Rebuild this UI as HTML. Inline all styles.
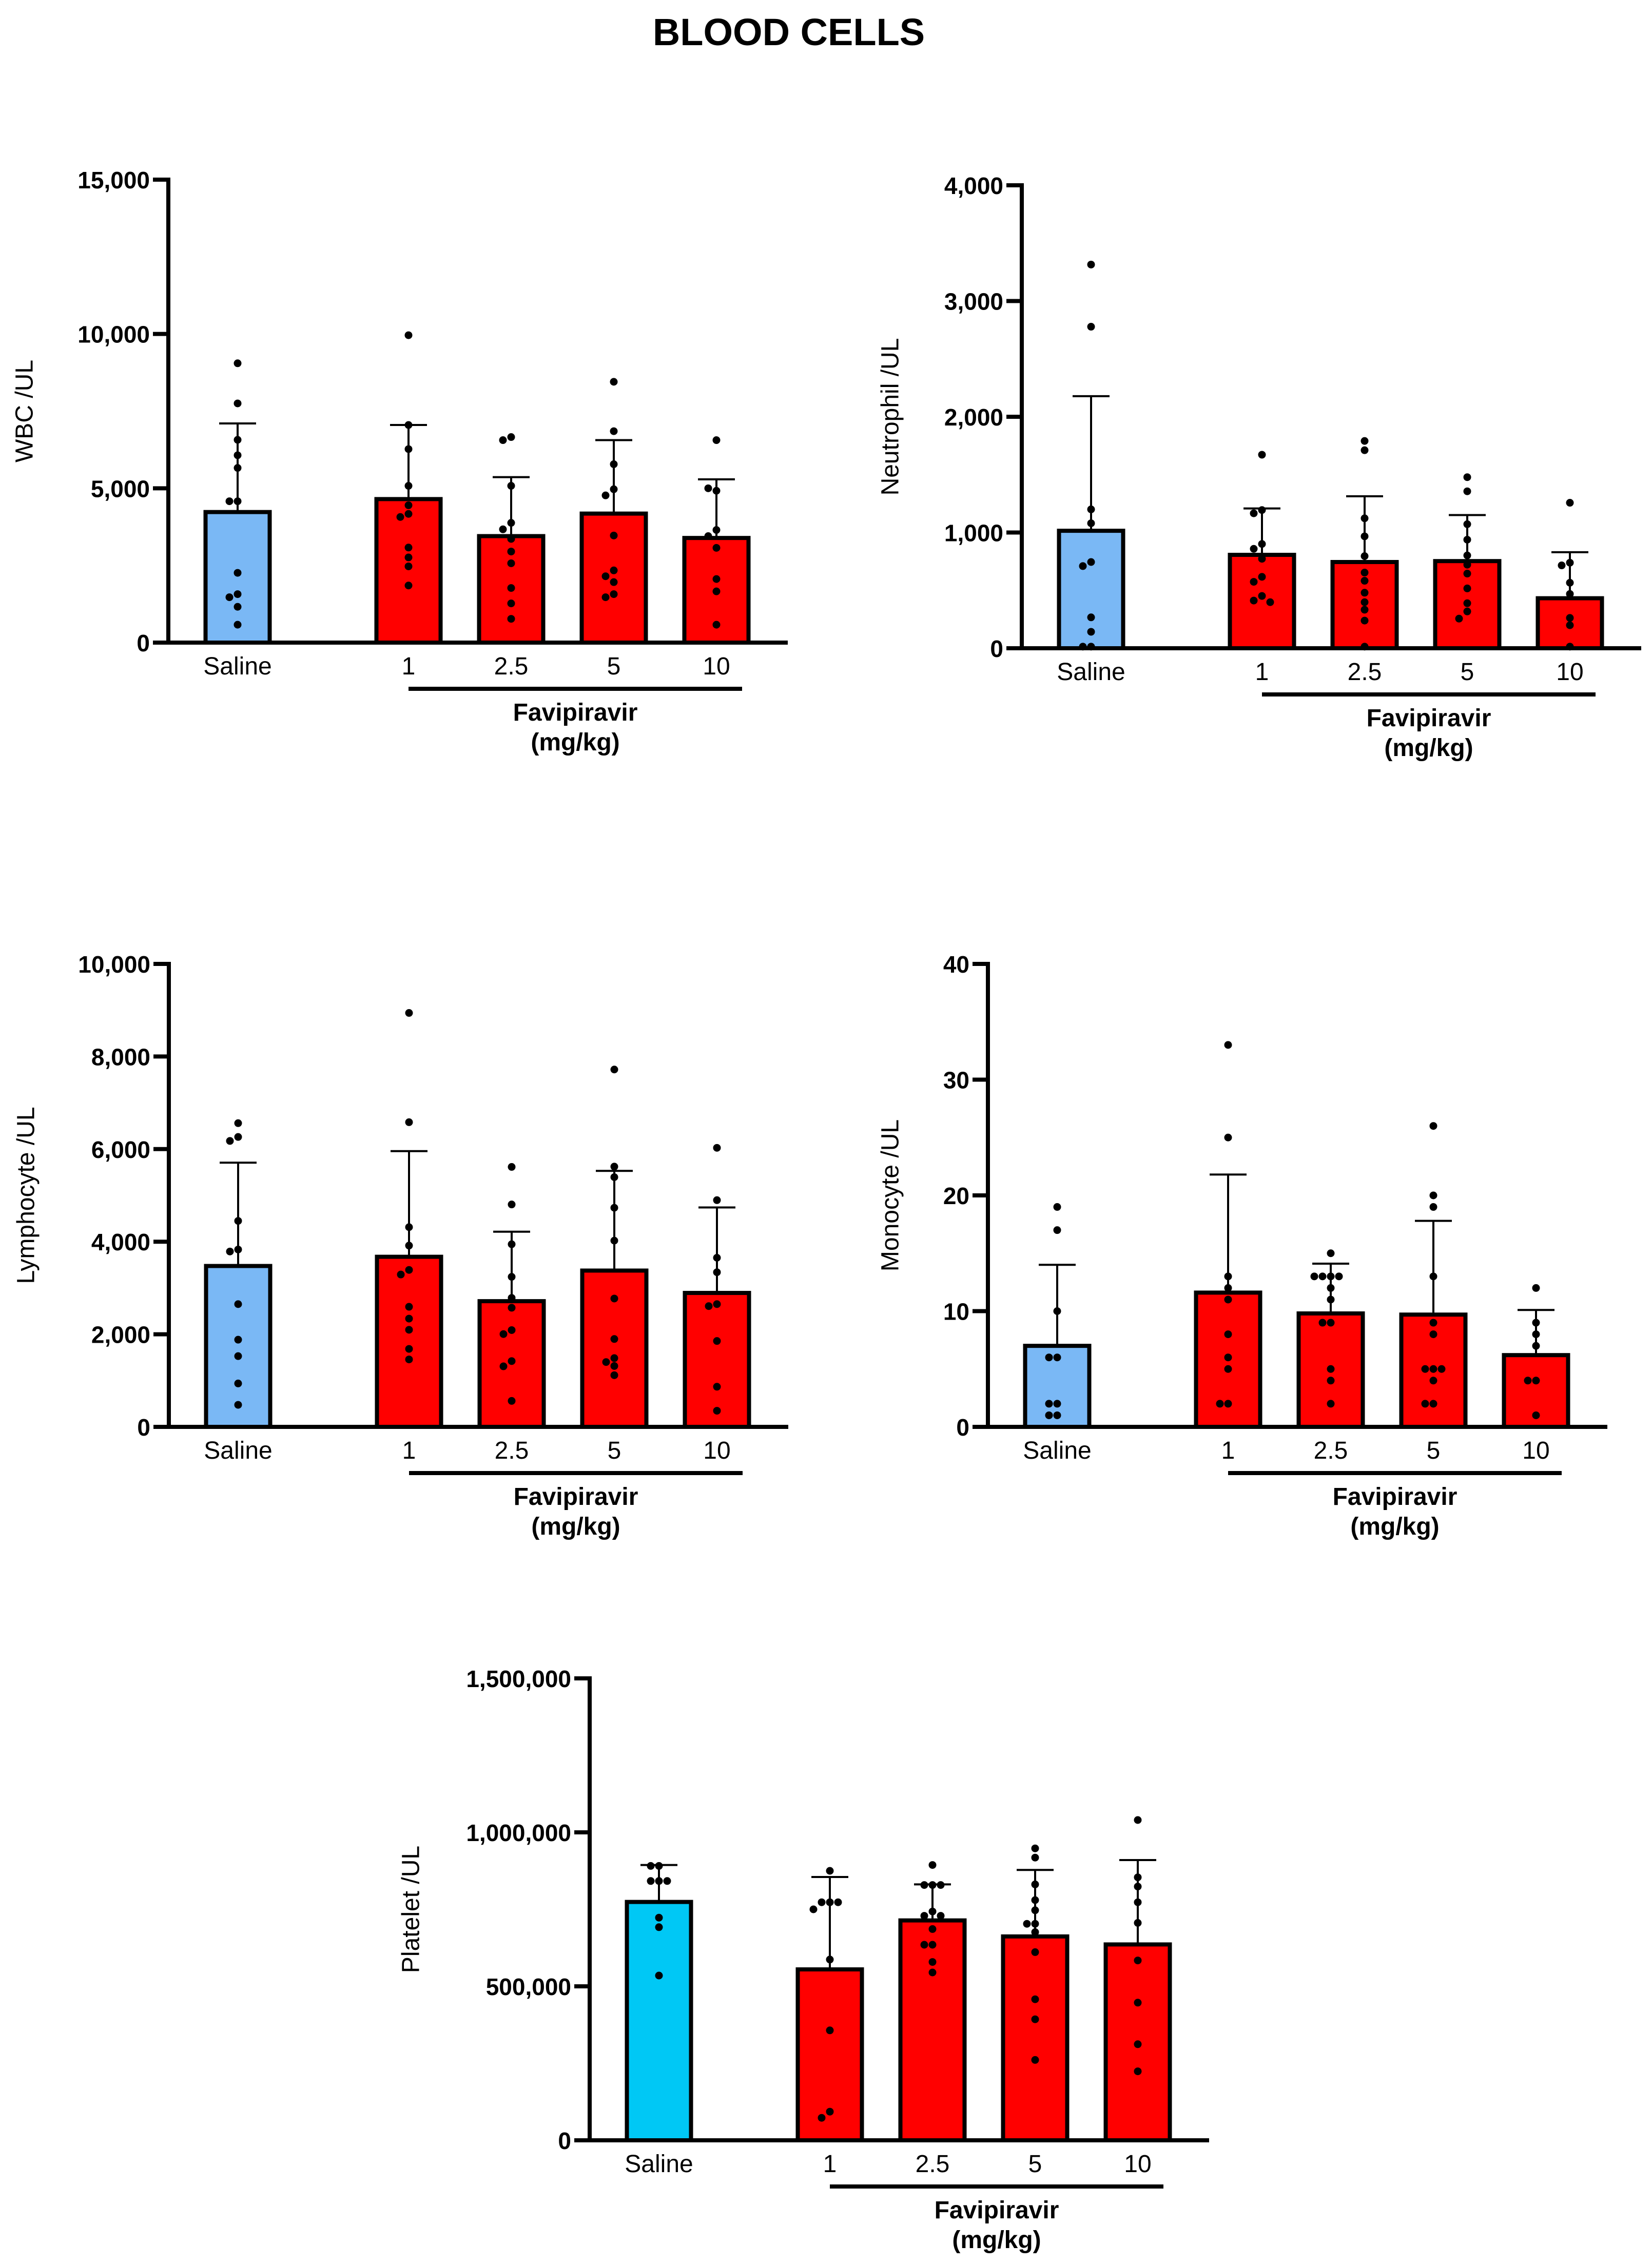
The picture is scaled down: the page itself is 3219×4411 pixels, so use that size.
<!DOCTYPE html>
<html><head><meta charset="utf-8">
<style>
html,body{margin:0;padding:0;background:#fff;}
svg{display:block;}
text{font-family:"Liberation Sans",Arial,sans-serif;}
</style></head>
<body>
<svg id="fig" width="3219" height="4411" viewBox="0 0 3219 4411" xmlns="http://www.w3.org/2000/svg">
<rect width="3219" height="4411" fill="#fff"/>
<text x="1537" y="88" font-size="74" font-weight="bold" text-anchor="middle">BLOOD CELLS</text>
</svg>
<script>
// ---- data ----
const categories = ["Saline","1","2.5","5","10"];

const wbcMeans = [4230, 4650, 3450, 4180, 3390];
const wbcErr = [7100, 7050, 5360, 6560, 5290];
const wbcPoints = [
 [9050,7750,6570,6070,5660,4580,4580,2260,1570,1470,1160,580],
 [9960,7050,6270,5080,4450,4170,4070,3080,2760,2470,1850],
 [6660,6560,5080,3880,3670,3360,2950,2570,1770,1270,770],
 [8450,6850,5780,4970,4770,3470,2340,2150,1960,1570,1470],
 [6560,4920,5000,3650,3450,3070,2060,1660,580]
];
const wbcTicks = [0,5000,10000,15000];
const wbcTickLabels = ["0","5,000","10,000","15,000"];

const neuMeans = [1015, 807, 745, 753, 432];
const neuErr = [2178, 1208, 1313, 1151, 830];
const neuPoints = [
 [3315,2778,1200,1080,745,710,267,142,14,14],
 [1672,1194,1166,901,859,773,617,574,452,412,398],
 [1791,1711,1123,967,796,654,583,480,398,333,239,14],
 [1478,1356,1072,938,802,722,645,517,389,318,256],
 [1257,739,716,566,469,262,199,14]
];
const neuTicks = [0,1000,2000,3000,4000];
const neuTickLabels = ["0","1,000","2,000","3,000","4,000"];

const lymMeans = [3475, 3674, 2715, 3376, 2893];
const lymErr = [5707, 5956, 4215, 5530, 4740];
const lymPoints = [
 [6560,6262,6176,4449,3831,3788,2651,1883,1528,938,476],
 [8941,6581,4314,3916,3390,3291,2594,2338,2097,1684,1457],
 [5615,4804,3945,3241,2786,2573,2090,2004,1421,1308,561],
 [7719,5622,5394,4733,4023,2772,1898,1485,1400,1315,1116],
 [6027,4897,3653,3340,2651,2608,1855,867,348]
];
const lymTicks = [0,2000,4000,6000,8000,10000];
const lymTickLabels = ["0","2,000","4,000","6,000","8,000","10,000"];

const monMeans = [7.0, 11.6, 9.8, 9.7, 6.2];
const monErr = [14.0, 21.8, 14.1, 17.8, 10.1];
const monPoints = [
 [19,17,10,6,6,2,2,1,1],
 [33,25,13,12,11,8,6,5,2,2],
 [15,13,13,13,13,12,11,9,9,5,4,2],
 [26,20,19,13,9,8,5,5,5,4,2,2],
 [12,9,8,7,4,4,1]
];
const monTicks = [0,10,20,30,40];
const monTickLabels = ["0","10","20","30","40"];

const pltMeans = [774000, 555000, 714000, 662000, 636000];
const pltErr = [894000, 855000, 831000, 878000, 910000];
const pltPoints = [
 [891000,891000,842000,842000,842000,723000,692000,535000],
 [875000,773000,773000,773000,750000,587000,357000,93000,73000],
 [894000,829000,829000,829000,743000,729000,729000,686000,635000,635000,579000,545000],
 [948000,918000,831000,780000,747000,703000,703000,676000,611000,458000,393000,261000],
 [1040000,854000,824000,773000,706000,584000,447000,312000,224000]
];
const pltTicks = [0,500000,1000000,1500000];
const pltTickLabels = ["0","500,000","1,000,000","1,500,000"];

// ---- drawing ----
const NS = "http://www.w3.org/2000/svg";
const svg = document.getElementById("fig");
function mk(tag, attrs, parent){
  const e = document.createElementNS(NS, tag);
  for (const k in attrs) e.setAttribute(k, attrs[k]);
  (parent||svg).appendChild(e);
  return e;
}

function drawPanel(p){
  const g = mk("g", {});
  
  
  const yMax = p.ticks[p.ticks.length-1];
  const yScale = v => p.y0 - (v / yMax) * (p.y0 - p.yTop);
  const slots = [0, 333, 533, 733, 933];
  const xScale = i => p.ax + 135 + slots[i];
  const bw = 125;

  p.means.forEach((m, i) => {
    const r = mk("rect", {x: xScale(i)-bw/2, y: yScale(m), width: bw, height: p.y0 - yScale(m),
      fill: i===0 ? p.salineColor : "#ff0000", stroke:"#000", "stroke-width":8}, g);
    
    
  });
  p.err.forEach((e, i) => {
    const eg = mk("g", {stroke:"#000","stroke-width":4}, g);
    
    
    mk("line", {x1:xScale(i), x2:xScale(i), y1:yScale(p.means[i]), y2:yScale(e)}, eg);
    mk("line", {x1:xScale(i)-36, x2:xScale(i)+36, y1:yScale(e), y2:yScale(e)}, eg);
  });
  p.points.forEach((arr, i) => {
    const placed = [];
    arr.forEach(v => {
      const y = yScale(v);
      const offs = [0,-16,16,-32,32,-48,48];
      let dx = 0;
      for (const o of offs){
        if (!placed.some(q => Math.abs(q[0]-o) < 14 && Math.abs(q[1]-y) < 14)) { dx = o; break; }
      }
      placed.push([dx, y]);
      const c = mk("circle", {cx: xScale(i)+dx, cy: y, r: 7.5, fill:"#000"}, g);
      
      
    });
  });
  const ya = mk("line", {x1:p.ax, x2:p.ax, y1:p.yTop-4, y2:p.y0+4, stroke:"#000","stroke-width":8}, g);
  
  
  const xa = mk("line", {x1:p.ax-30, x2:p.ax+1207, y1:p.y0, y2:p.y0, stroke:"#000","stroke-width":8}, g);
  
  
  p.ticks.forEach((t, k) => {
    const tl = mk("line", {x1:p.ax-30, x2:p.ax, y1:yScale(t), y2:yScale(t), stroke:"#000","stroke-width":8}, g);
    
    
    const tx = mk("text", {x:p.ax-36, y:yScale(t)+17, "font-size":46, "font-weight":"bold", "text-anchor":"end"}, g);
    tx.textContent = p.tickLabels[k];
    
    
  });
  categories.forEach((c, i) => {
    const tx = mk("text", {x:xScale(i), y:p.y0+62, "font-size":48, "text-anchor":"middle"}, g);
    tx.textContent = c;
    
    
  });
  const l1 = xScale(1), l2 = xScale(4) + 50;
  const br = mk("line", {x1:l1, x2:l2, y1:p.y0+90, y2:p.y0+90, stroke:"#000","stroke-width":8}, g);
  
  
  const f1 = mk("text", {x:(l1+l2)/2, y:p.y0+152, "font-size":48, "font-weight":"bold", "text-anchor":"middle"}, g);
  f1.textContent = "Favipiravir";
  
  
  const f2 = mk("text", {x:(l1+l2)/2, y:p.y0+210, "font-size":48, "font-weight":"bold", "text-anchor":"middle"}, g);
  f2.textContent = "(mg/kg)";
  
  
  const cy = (p.y0 + p.yTop)/2;
  const yt = mk("text", {x:p.titleX, y:cy, "font-size":48, "text-anchor":"middle", "dominant-baseline":"central",
    transform:`rotate(-90 ${p.titleX} ${cy})`}, g);
  yt.textContent = p.title;
  
  
}

drawPanel({name:"wbc", ax:328, yTop:350, y0:1252, titleX:48, title:"WBC /UL", salineColor:"#7ab8f5",
  means:wbcMeans, err:wbcErr, points:wbcPoints, ticks:wbcTicks, tickLabels:wbcTickLabels});
drawPanel({name:"neutrophil", ax:1991, yTop:361, y0:1263, titleX:1735, title:"Neutrophil /UL", salineColor:"#7ab8f5",
  means:neuMeans, err:neuErr, points:neuPoints, ticks:neuTicks, tickLabels:neuTickLabels});
drawPanel({name:"lymphocyte", ax:329, yTop:1878, y0:2780, titleX:51, title:"Lymphocyte /UL", salineColor:"#7ab8f5",
  means:lymMeans, err:lymErr, points:lymPoints, ticks:lymTicks, tickLabels:lymTickLabels});
drawPanel({name:"monocyte", ax:1925, yTop:1878, y0:2780, titleX:1735, title:"Monocyte /UL", salineColor:"#7ab8f5",
  means:monMeans, err:monErr, points:monPoints, ticks:monTicks, tickLabels:monTickLabels});
drawPanel({name:"platelet", ax:1149, yTop:3270, y0:4170, titleX:801, title:"Platelet /UL", salineColor:"#00c8f5",
  means:pltMeans, err:pltErr, points:pltPoints, ticks:pltTicks, tickLabels:pltTickLabels});
</script>
</body></html>
